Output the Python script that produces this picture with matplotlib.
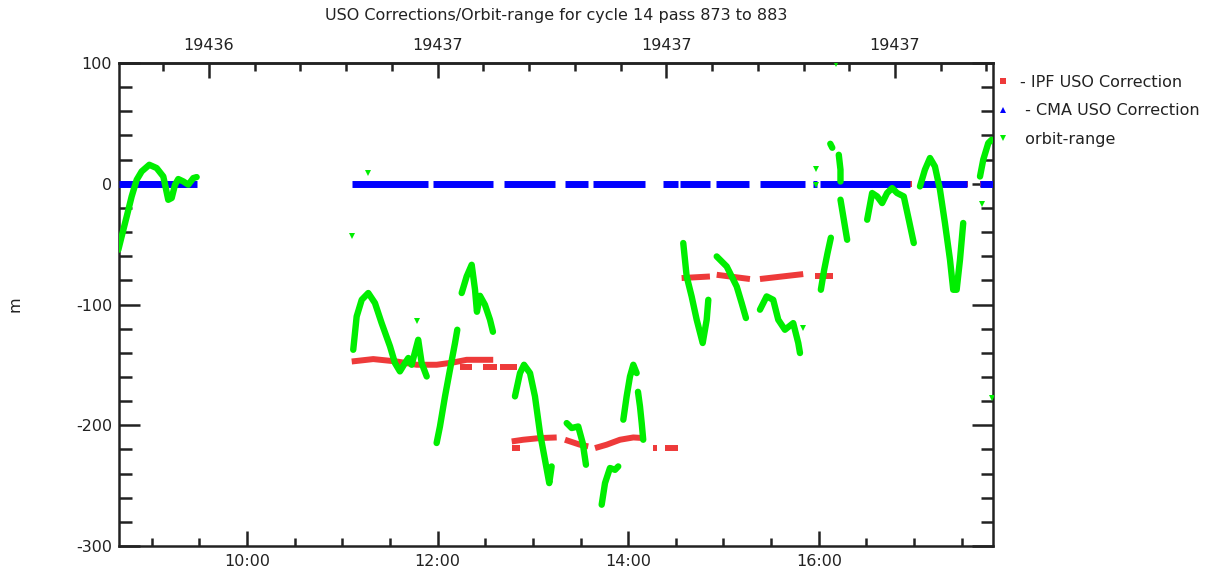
import numpy as np
import matplotlib.pyplot as plt
from matplotlib.lines import Line2D

plt.rcParams['font.family'] = 'DejaVu Sans'
plt.rcParams['axes.unicode_minus'] = False

# hours of day (x) and metres (y), one list per visible stroke
orbit_h = [
    [8.650, 8.685, 8.738, 8.790, 8.843, 8.895, 8.975, 9.052, 9.122, 9.174, 9.210, 9.245, 9.279, 9.332, 9.384, 9.437, 9.472],
    [11.115, 11.151, 11.204, 11.273, 11.343, 11.413, 11.501, 11.553, 11.605, 11.658, 11.693, 11.728, 11.797, 11.833, 11.886],
    [11.990, 12.025, 12.078, 12.130, 12.183, 12.207],
    [12.253, 12.305, 12.358, 12.393, 12.413, 12.445, 12.497, 12.550, 12.581],
    [12.812, 12.865, 12.907, 12.970, 13.022, 13.075, 13.127, 13.172, 13.197],
    [13.355, 13.407, 13.476, 13.523, 13.557],
    [13.722, 13.757, 13.809, 13.862, 13.896],
    [13.949, 13.984, 14.019, 14.054, 14.089],
    [14.103, 14.124, 14.142, 14.158],
    [14.578, 14.614, 14.666, 14.719, 14.782, 14.824, 14.841],
    [14.929, 15.034, 15.139, 15.191, 15.236],
    [15.383, 15.453, 15.522, 15.575, 15.645, 15.732, 15.785, 15.803],
    [16.022, 16.057, 16.092, 16.127],
    [16.121, 16.142],
    [16.210, 16.228, 16.228],
    [16.228, 16.263, 16.298],
    [16.508, 16.560, 16.613, 16.665, 16.717, 16.770, 16.822, 16.892, 16.945, 16.997],
    [17.062, 17.114, 17.167, 17.219, 17.272, 17.324, 17.377, 17.411, 17.447, 17.482, 17.516],
    [17.692, 17.726, 17.779, 17.814],
]
orbit_m = [
    [-54.7, -43.6, -27.1, -10.5, 3.3, 10.2, 15.7, 13.0, 6.0, -13.3, -11.8, -0.8, 3.9, 1.9, -0.8, 4.7, 5.5],
    [-137.5, -109.9, -96.1, -90.5, -98.8, -115.4, -134.7, -148.5, -155.4, -148.5, -144.3, -149.9, -129.2, -148.5, -159.6],
    [-214.7, -201.0, -176.1, -154.0, -131.9, -120.9],
    [-90.5, -76.8, -67.1, -87.8, -106.0, -92.8, -100.2, -112.6, -122.6],
    [-176.1, -156.8, -149.9, -156.8, -176.1, -206.5, -228.6, -247.9, -234.1],
    [-198.2, -202.3, -201.0, -214.7, -232.7],
    [-265.8, -247.9, -235.4, -236.9, -234.1],
    [-195.4, -176.1, -159.6, -149.9, -156.8],
    [-172.3, -184.4, -198.2, -212.0],
    [-49.1, -76.8, -93.3, -112.6, -131.9, -112.6, -96.1],
    [-60.2, -68.5, -85.1, -98.8, -111.2],
    [-104.3, -93.3, -96.1, -112.6, -120.9, -115.4, -131.9, -140.2],
    [-87.8, -71.2, -57.4, -44.7],
    [33.1, 29.8],
    [24.0, 11.6, 1.9],
    [-13.2, -29.8, -46.4],
    [-29.8, -7.7, -10.5, -16.0, -7.7, -3.6, -7.7, -10.5, -29.8, -49.1],
    [-2.2, 11.6, 21.3, 14.3, -5.0, -32.5, -62.9, -87.8, -87.8, -62.9, -32.5],
    [6.0, 19.9, 33.7, 36.4],
]
# stray orbit-range points
stray_h = [11.102, 11.270, 11.787, 15.837, 15.967, 15.967, 17.716, 17.820, 16.183]
stray_m = [-43.1, 9.1, -114.0, -119.5, 12.4, -0.8, -16.6, -177.2, 99.5]

ipf_h = [
    [8.657, 9.475],
    [11.099, 11.325, 11.571, 11.781, 11.991, 12.165, 12.305, 12.584],
    [12.235, 12.360], [12.476, 12.620], [12.655, 12.830],
    [12.778, 12.899, 13.074, 13.250],
    [12.778, 12.865],
    [13.337, 13.494, 13.581],
    [13.652, 13.774, 13.914, 14.054, 14.158],
    [14.262, 14.300], [14.386, 14.523],
    [14.561, 14.858], [14.929, 15.278], [15.383, 15.837], [15.960, 16.152],
    [16.170, 16.977], [17.062, 17.565], [17.692, 17.828],
]
ipf_m = [
    [0, 0],
    [-147.2, -145.2, -147.2, -149.9, -149.9, -148.0, -145.8, -145.8],
    [-151.8, -151.8], [-151.8, -151.8], [-151.8, -151.8],
    [-213.4, -212.0, -210.6, -210.1],
    [-218.9, -218.9],
    [-212.0, -216.1, -217.5],
    [-218.9, -216.1, -212.0, -210.1, -210.6],
    [-218.9, -218.9], [-218.9, -218.9],
    [-78.1, -76.8], [-75.4, -78.9], [-78.9, -74.8], [-76.8, -76.8],
    [0, 0], [0, 0], [0, 0],
]

cma_start = [8.657, 11.102, 11.952, 12.697, 13.337, 13.631, 14.365, 14.544, 14.921, 15.383, 15.939, 16.012, 17.062, 17.692]
cma_end = [9.475, 11.899, 12.581, 13.232, 13.578, 14.176, 14.523, 14.858, 15.267, 15.855, 15.981, 16.957, 17.555, 17.828]
cma_value = 0.0

x_ticks = [10, 12, 14, 16]
x_labels = ['10:00', '12:00', '14:00', '16:00']
day_ticks = [19436.4, 19436.5, 19436.6, 19436.7]
day_labels = ['19436', '19437', '19437', '19437']
x_range = (8.657, 17.828)

RED = '#ee3a3a'
BLUE = '#0000ff'
GREEN = '#00ee00'
INK = '#222222'
FS = 11.5

fig = plt.figure(figsize=(12.13, 5.69), dpi=100)
ax = fig.add_axes([0.0981, 0.0404, 0.7205, 0.8489])

for h, m in zip(ipf_h, ipf_m):
    ax.plot(h, m, color=RED, lw=4.3, solid_capstyle='butt', zorder=2)
for s, e in zip(cma_start, cma_end):
    ax.plot([s, e], [cma_value, cma_value], color=BLUE, lw=5, solid_capstyle='butt', zorder=3)
for h, m in zip(orbit_h, orbit_m):
    ax.plot(h, m, color=GREEN, lw=4.6, solid_capstyle='round', solid_joinstyle='round', zorder=4)
ax.plot(stray_h, stray_m, 'v', color=GREEN, ms=4, mew=0, zorder=4)

ax.set_xticks(x_ticks)
ax.set_xticklabels(x_labels)
ax.set_xticks(np.arange(9.0, 17.8, 0.5), minor=True)
ax.set_yticks([-300, -200, -100, 0, 100])
ax.set_yticks(np.arange(-300, 101, 20), minor=True)

ax.tick_params(axis='x', which='both', direction='in', top=False, width=1.8, color=INK,
               labelsize=FS, labelcolor=INK, pad=6)
ax.tick_params(axis='x', which='major', length=11)
ax.tick_params(axis='x', which='minor', length=6)
ax.tick_params(axis='y', which='both', direction='in', left=True, right=True, width=1.8,
               color=INK, labelsize=FS, labelcolor=INK, pad=5)
ax.tick_params(axis='y', which='major', length=15)
ax.tick_params(axis='y', which='minor', length=9)

for sp in ax.spines.values():
    sp.set_linewidth(1.8)
    sp.set_color(INK)

top = ax.secondary_xaxis('top', functions=(lambda h: 19436 + h / 24.0, lambda d: (d - 19436) * 24.0))
top.set_xticks(day_ticks)
top.set_xticklabels(day_labels)
top.set_xticks(np.arange(19436.38, 19436.74, 0.02), minor=True)
top.tick_params(axis='x', which='both', direction='in', width=1.8, color=INK,
                labelsize=FS, labelcolor=INK, pad=7)
top.tick_params(axis='x', which='major', length=11)
top.tick_params(axis='x', which='minor', length=6)
top.spines['top'].set_linewidth(1.8)
top.spines['top'].set_color(INK)

# limits last: setting ticks may widen the view
ax.set_xlim(*x_range)
ax.set_ylim(-300, 100)

ax.set_ylabel('m', fontsize=FS, color=INK)
ax.yaxis.set_label_coords(-0.110, 0.5)

fig.text(0.4584, 0.972, 'USO Corrections/Orbit-range for cycle 14 pass 873 to 883',
         ha='center', va='center', fontsize=FS, color=INK)

handles = [
    Line2D([], [], ls='none', marker='s', color=RED, ms=4, mew=0),
    Line2D([], [], ls='none', marker='^', color=BLUE, ms=4, mew=0),
    Line2D([], [], ls='none', marker='v', color=GREEN, ms=4, mew=0),
]
labels = ['- IPF USO Correction', ' - CMA USO Correction', ' orbit-range']
fig.legend(handles, labels, loc='upper left', bbox_to_anchor=(0.8207, 0.869), frameon=False,
           borderpad=0, borderaxespad=0, handlelength=1.0, handletextpad=0.55,
           labelspacing=0.85, fontsize=FS, labelcolor=INK)

fig.savefig('out.png', dpi=100)
